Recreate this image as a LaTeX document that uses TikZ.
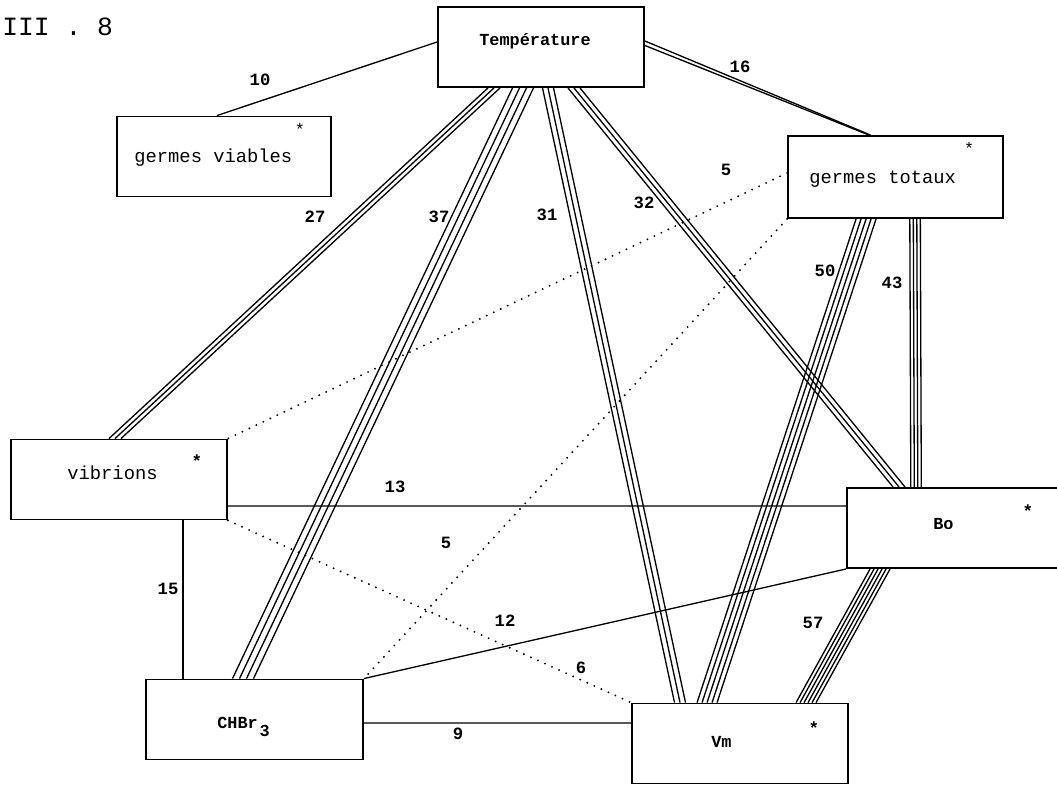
\documentclass[tikz,border=0pt]{standalone}
\usepackage{fontspec}
\setmonofont{Liberation Mono}
\usetikzlibrary{calc}

\begin{document}
\begin{tikzpicture}[x=0.02cm, y=-0.02cm,
  box/.style={draw, line width=1.1pt, minimum width=4.3cm, minimum height=1.6cm, inner sep=0pt},
  boxtext/.style={font=\ttfamily\fontsize{10.7}{12}\selectfont, anchor=base west, inner sep=0pt},
  boldtext/.style={font=\ttfamily\bfseries\fontsize{9.6}{11}\selectfont, anchor=base west, inner sep=0pt},
  starmark/.style={font=\ttfamily\bfseries\fontsize{10}{11}\selectfont, anchor=north, inner sep=0pt},
  lightstar/.style={font=\ttfamily\fontsize{9.5}{10}\selectfont, anchor=north, inner sep=0pt},
  num/.style={font=\ttfamily\bfseries\fontsize{9.8}{11}\selectfont, inner sep=0pt},
  wire/.style={line width=0.75pt},
  dots/.style={line width=1.2pt, line cap=round, dash pattern=on 0pt off 4.4pt},
]
  \path[use as bounding box] (0,0) rectangle (1057,785);
  \clip (0,0) rectangle (1057,785);

  \node[font=\ttfamily\fontsize{15}{17}\selectfont, anchor=base west, inner sep=0pt] (title) at (2,35) {III . 8};

  \node[box, minimum width=4.12cm] (temp) at (541,47) {};
  \node[box, minimum width=4.28cm] (gv) at (224,156.5) {};
  \node[box, minimum height=1.64cm] (gt) at (895.5,177) {};
  \node[box, minimum width=4.32cm] (vib) at (119,479.5) {};
  \node[box, minimum width=4.46cm] (bo) at (958.5,528) {};
  \node[box, minimum width=4.34cm] (chbr) at (254.5,719.5) {};
  \node[box, minimum width=4.32cm] (vm) at (740,743.5) {};

  \node[boldtext] (ttemp) at (479,45) {Température};
  \node[boxtext] (tgv) at (134,162) {germes viables};
  \node[boxtext] (tgt) at (809,183) {germes totaux};
  \node[boxtext] (tvib) at (67,479) {vibrions};
  \node[boldtext] (tchbr) at (217,728) {CHBr\kern1pt\raisebox{-5pt}{3}};
  \node[boldtext] (tvm) at (711,747) {Vm};
  \node[boldtext] (tbo) at (933,529) {Bo};

  \node[lightstar] (sgv) at (300,123) {*};
  \node[lightstar] (sgt) at (969,142) {*};
  \node[starmark] (svib) at (197,454) {*};
  \node[starmark] (sbo) at (1028,504) {*};
  \node[starmark] (svm) at (814,721) {*};

  \draw[wire] ([shift={(0,-5)}]temp.west) -- ([shift={(-7,0)}]gv.north);
  \draw[wire] ([shift={(0,-6)}]temp.east) -- ([shift={(-25,0)}]gt.north);
  \draw[wire] ([shift={(0,-1.5)}]temp.east) -- ([shift={(-26.5,0)}]gt.north);
  \foreach \d in {-6,0,6}
    \draw[wire] ([shift={(-47+\d,0)}]temp.south) -- ([shift={(-4+\d,0)}]vib.north);
  \foreach \d in {-10.5,-3.5,3.5,10.5}
    \draw[wire] ([shift={(-18+\d,0)}]temp.south) -- ([shift={(-11.5+\d,0)}]chbr.north);
  \foreach \d in {-5.5,0,5.5}
    \draw[wire] ([shift={(7+\d,0)}]temp.south) -- ([shift={(-60+\d,0)}]vm.north);
  \foreach \d in {-6,0,6}
    \draw[wire] ([shift={(33+\d,0)}]temp.south) -- ([shift={(53+\d,0)}]bo.north west);
  \foreach \d in {-10,-5,0,5,10}
    \draw[wire] ([shift={(79+\d,0)}]gt.south west) -- ([shift={(76+\d,0)}]vm.north west);
  \foreach \d in {-5.25,-1.75,1.75,5.25}
    \draw[wire] ([shift={(128+\d,0)}]gt.south west) -- ([shift={(70+\d,0)}]bo.north west);
  \foreach \d in {-10,-6,-2,2,6,10}
    \draw[wire] ([shift={(34+\d,0)}]bo.south west) -- ([shift={(175+\d,0)}]vm.north west);

  \draw[dots] ([shift={(0,-4)}]gt.west) -- (vib.north east);
  \draw[dots] (gt.south west) -- (chbr.north east);
  \draw[dots] (vib.south east) -- (vm.north west);
  \draw[wire] ([shift={(0,26.5)}]vib.east) -- ([shift={(0,-22)}]bo.west);
  \draw[wire] ([shift={(64,0)}]vib.south) -- ([shift={(-71.5,0)}]chbr.north);
  \draw[wire] (chbr.north east) -- (bo.south west);
  \draw[wire] ([shift={(0,3.5)}]chbr.east) -- ([shift={(0,-20.5)}]vm.west);

  \node[num] (n10) at (260,80) {10};
  \node[num] (n16) at (740,67) {16};
  \node[num] (n27) at (315,217) {27};
  \node[num] (n37) at (439,217) {37};
  \node[num] (n31) at (547,215) {31};
  \node[num] (n32) at (644,203) {32};
  \node[num] (n5a) at (726,170) {5};
  \node[num] (n50) at (825,271) {50};
  \node[num] (n43) at (892,283) {43};
  \node[num] (n13) at (395,487) {13};
  \node[num] (n5b) at (446,543) {5};
  \node[num] (n15) at (168,589) {15};
  \node[num] (n12) at (505,621) {12};
  \node[num] (n6) at (581,668) {6};
  \node[num] (n57) at (813,623) {57};
  \node[num] (n9) at (458,734) {9};
\end{tikzpicture}
\end{document}
